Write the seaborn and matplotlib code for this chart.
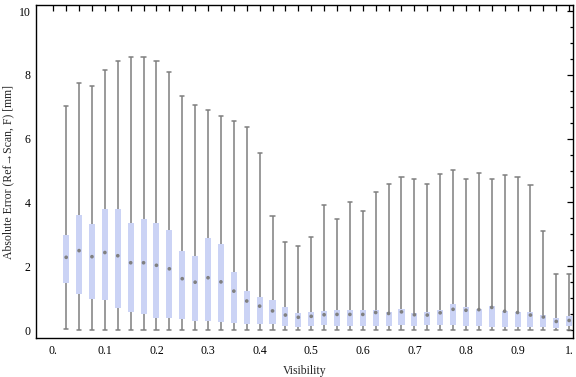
import numpy as np
import pandas as pd
import seaborn as sns
import matplotlib.pyplot as plt
from matplotlib.ticker import FixedLocator, MultipleLocator

sns.set_style("white")
plt.rcParams['font.family'] = ['Liberation Serif', 'DejaVu Serif']
plt.rcParams['font.size'] = 8.5

# visibility bins (box positions)
visibility = [0.025, 0.05, 0.075, 0.1, 0.125, 0.15, 0.175, 0.2, 0.225, 0.25,
              0.275, 0.3, 0.325, 0.35, 0.375, 0.4, 0.425, 0.45, 0.475, 0.5,
              0.525, 0.55, 0.575, 0.6, 0.625, 0.65, 0.675, 0.7, 0.725, 0.75,
              0.775, 0.8, 0.825, 0.85, 0.875, 0.9, 0.925, 0.95, 0.975, 1.0]

# five-number summaries [mm]
err_min = [0.03, 0.0, 0.0, 0.0, 0.0, 0.0, 0.0, 0.0, 0.0, 0.0,
           0.0, 0.0, 0.0, 0.0, 0.0, 0.0, 0.0, 0.0, 0.0, 0.0,
           0.0, 0.0, 0.0, 0.0, 0.0, 0.0, 0.0, 0.0, 0.0, 0.0,
           0.0, 0.0, 0.0, 0.0, 0.0, 0.0, 0.0, 0.0, 0.0, 0.0]
err_q1 = [1.48, 1.13, 0.98, 0.94, 0.70, 0.57, 0.49, 0.39, 0.39, 0.34,
          0.28, 0.28, 0.25, 0.23, 0.20, 0.20, 0.18, 0.14, 0.10, 0.14,
          0.17, 0.14, 0.14, 0.14, 0.14, 0.14, 0.17, 0.14, 0.17, 0.17,
          0.17, 0.14, 0.14, 0.10, 0.10, 0.10, 0.10, 0.10, 0.07, 0.14]
err_med = [2.28, 2.49, 2.30, 2.43, 2.33, 2.11, 2.11, 2.03, 1.92, 1.61,
           1.50, 1.64, 1.51, 1.22, 0.91, 0.75, 0.60, 0.47, 0.40, 0.43,
           0.48, 0.49, 0.49, 0.49, 0.55, 0.52, 0.57, 0.48, 0.47, 0.54,
           0.65, 0.62, 0.64, 0.71, 0.59, 0.55, 0.47, 0.41, 0.27, 0.30]
err_q3 = [2.98, 3.60, 3.34, 3.79, 3.79, 3.35, 3.48, 3.35, 3.13, 2.48,
          2.32, 2.88, 2.70, 1.82, 1.22, 1.03, 0.94, 0.72, 0.53, 0.56,
          0.60, 0.63, 0.63, 0.63, 0.63, 0.56, 0.66, 0.53, 0.56, 0.63,
          0.82, 0.72, 0.66, 0.75, 0.60, 0.56, 0.56, 0.47, 0.38, 0.44]
err_max = [7.03, 7.73, 7.64, 8.14, 8.42, 8.55, 8.55, 8.45, 8.08, 7.33,
           7.04, 6.89, 6.70, 6.54, 6.35, 5.54, 3.56, 2.75, 2.62, 2.91,
           3.91, 3.47, 4.00, 3.72, 4.32, 4.57, 4.79, 4.75, 4.57, 4.88,
           5.01, 4.75, 4.91, 4.75, 4.85, 4.79, 4.54, 3.09, 1.75, 1.75]

xtick_pos = [0.0, 0.1, 0.2, 0.3, 0.4, 0.5, 0.6, 0.7, 0.8, 0.9, 1.0]
xtick_labels = ["0.", "0.1", "0.2", "0.3", "0.4", "0.5", "0.6", "0.7", "0.8", "0.9", "1."]

# long table: five points per bin reproduce the quartiles exactly
rows = []
for i, v in enumerate(visibility):
    for val in (err_min[i], err_q1[i], err_med[i], err_q3[i], err_max[i]):
        rows.append({"Visibility": v, "Error": val})
df = pd.DataFrame(rows)

fig = plt.figure(figsize=(5.76, 3.77), dpi=100)
ax = fig.add_axes([0.0625, 0.1034, 0.9323, 0.8833])

box_color = "#cbd3f5"
line_color = "#7f7f7f"
sns.boxplot(data=df, x="Visibility", y="Error", native_scale=True, whis=(0, 100),
            width=0.47, color=box_color, saturation=1, linewidth=1.1,
            linecolor=line_color, showfliers=False, capwidths=0.008,
            boxprops={"edgecolor": box_color, "linewidth": 0},
            whiskerprops={"color": line_color, "linewidth": 1.1},
            capprops={"color": line_color, "linewidth": 1.1},
            medianprops={"linewidth": 0},
            ax=ax)
sns.scatterplot(x=visibility, y=err_med, color="#808080", s=7, marker="o",
                edgecolor="none", zorder=5, ax=ax)

ax.set_xlim(-0.0335, 1.0075)
ax.set_ylim(-0.25, 10.19)

ax.xaxis.set_major_locator(FixedLocator(xtick_pos))
ax.set_xticklabels(xtick_labels)
ax.xaxis.set_minor_locator(FixedLocator(visibility))
ax.yaxis.set_major_locator(MultipleLocator(2))
ax.yaxis.set_minor_locator(MultipleLocator(0.5))
ax.tick_params(which="both", direction="in", top=True, right=True,
               color="black", width=0.9, labelsize=8.5, labelcolor="black")
ax.tick_params(axis="x", which="both", length=4.5, pad=5)
ax.tick_params(axis="y", which="major", length=4.5, pad=4)
ax.tick_params(axis="y", which="minor", length=2.2)
for sp in ax.spines.values():
    sp.set_visible(True)
    sp.set_color("black")
    sp.set_linewidth(1.0)

ax.set_xlabel("Visibility", fontsize=8.5, labelpad=6)
ax.set_ylabel("Absolute Error (Ref\u2192Scan, F) [mm]", fontsize=8.5, labelpad=3)

plt.savefig("out.png", dpi=100)
